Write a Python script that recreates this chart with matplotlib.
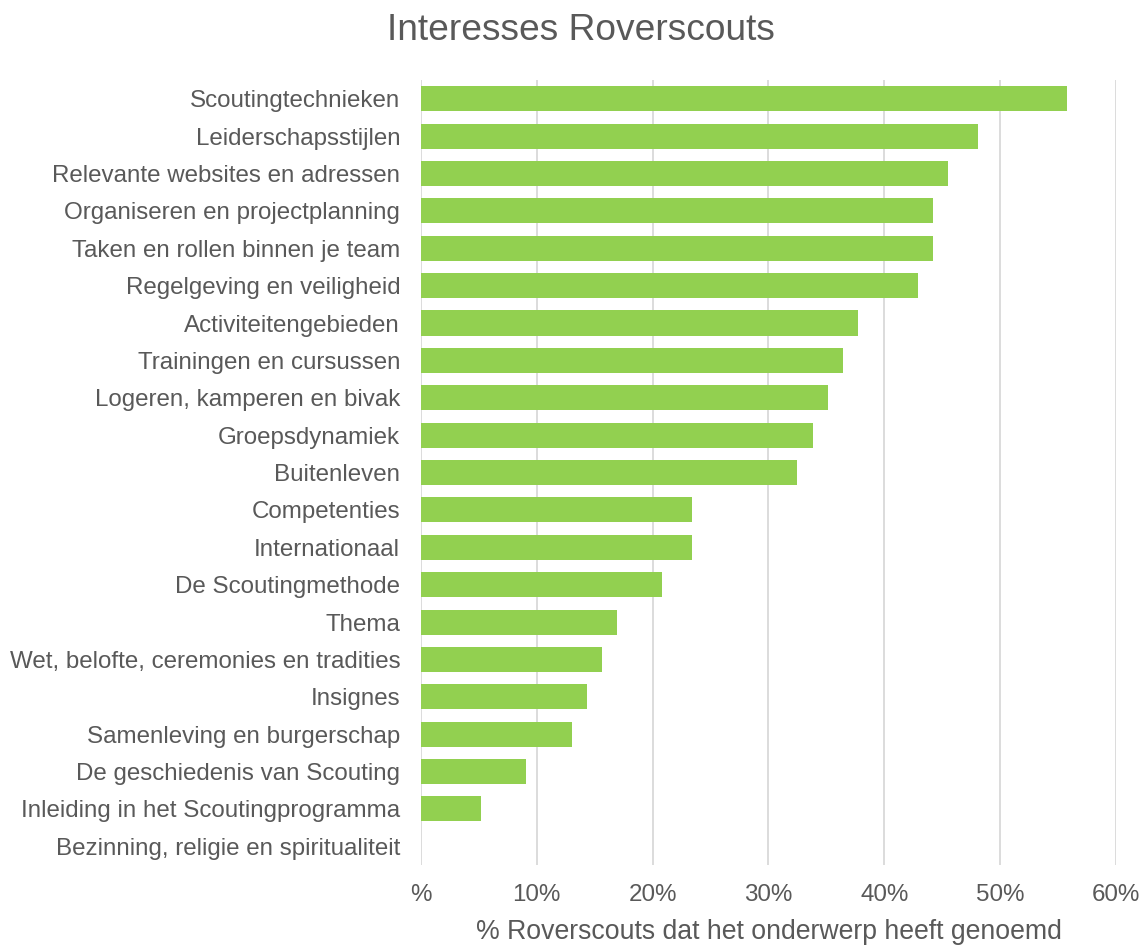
import matplotlib
matplotlib.use("Agg")
import matplotlib.pyplot as plt
from matplotlib.ticker import FixedLocator, FixedFormatter

plt.rcParams['font.family'] = ['Liberation Sans', 'DejaVu Sans']

categories = [
    "Scoutingtechnieken",
    "Leiderschapsstijlen",
    "Relevante websites en adressen",
    "Organiseren en projectplanning",
    "Taken en rollen binnen je team",
    "Regelgeving en veiligheid",
    "Activiteitengebieden",
    "Trainingen en cursussen",
    "Logeren, kamperen en bivak",
    "Groepsdynamiek",
    "Buitenleven",
    "Competenties",
    "Internationaal",
    "De Scoutingmethode",
    "Thema",
    "Wet, belofte, ceremonies en tradities",
    "Insignes",
    "Samenleving en burgerschap",
    "De geschiedenis van Scouting",
    "Inleiding in het Scoutingprogramma",
    "Bezinning, religie en spiritualiteit",
]
values = [55.8, 48.1, 45.5, 44.2, 44.2, 42.9, 37.7, 36.4, 35.1, 33.8, 32.5,
          23.4, 23.4, 20.8, 16.9, 15.6, 14.3, 13.0, 9.1, 5.2, 0.0]
xticks = [0, 10, 20, 30, 40, 50, 60]
xtick_labels = ["%", "10%", "20%", "30%", "40%", "50%", "60%"]

title = "Interesses Roverscouts"
xlabel = "% Roverscouts dat het onderwerp heeft genoemd"

text_color = "#595959"
bar_color = "#92D050"
grid_color = "#D9D9D9"

fig = plt.figure(figsize=(11.43, 9.46), dpi=100)
ax = fig.add_axes([0.3683, 0.0856, 0.6081, 0.8298])

y = list(range(len(categories)))
ax.barh(y, values, height=0.67, color=bar_color, zorder=3)
ax.set_ylim(len(categories) - 0.5, -0.5)
ax.set_xlim(0, 60)

ax.xaxis.set_major_locator(FixedLocator(xticks))
ax.xaxis.set_major_formatter(FixedFormatter(xtick_labels))
ax.set_yticks(y)
ax.set_yticklabels(categories)

ax.grid(axis='x', color=grid_color, linewidth=1.3, zorder=0)
for s in ax.spines.values():
    s.set_visible(False)
ax.tick_params(axis='both', length=0, colors=text_color, labelsize=17.4)
ax.tick_params(axis='x', pad=14)
ax.tick_params(axis='y', pad=15)

ax.set_xlabel(xlabel, fontsize=19.2, color=text_color, labelpad=9)
fig.suptitle(title, fontsize=26.7, color=text_color, x=0.508, y=0.986, va='top')

fig.savefig("out.png", dpi=100)
